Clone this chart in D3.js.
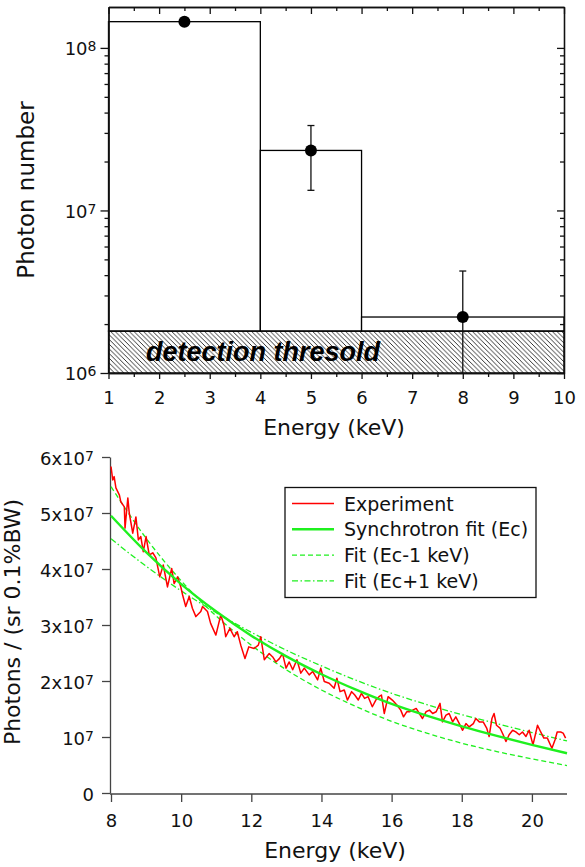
<!DOCTYPE html>
<html>
<head>
<meta charset="utf-8">
<script src="https://cdn.jsdelivr.net/npm/d3@7"></script>
<style>
  body { margin: 0; background: #fff; }
  svg { display: block; }
  text { font-family: "DejaVu Sans", sans-serif; fill: #111; }
</style>
</head>
<body>
<svg id="chart" width="585" height="867"></svg>
<script>
// ---- top panel data: photon number per energy bin ----
const binStart = [1, 4, 6];
const binEnd = [4, 6, 10];
const binCount = [1.45e8, 2.34e7, 2.21e6];
const pointEnergy = [2.5, 5, 8];
const errHigh = [null, 3.33e7, 4.24e6];
const errLow = [null, 1.33e7, 1e6];
const threshold = 1.81e6;
const topXTicks = [1, 2, 3, 4, 5, 6, 7, 8, 9, 10];
const topXMinor = [1.5, 2.5, 3.5, 4.5, 5.5, 6.5, 7.5, 8.5, 9.5];
const topYTicks = [1e6, 1e7, 1e8];
const topYMinor = [2e6, 3e6, 4e6, 5e6, 6e6, 7e6, 8e6, 9e6, 2e7, 3e7, 4e7, 5e7, 6e7, 7e7, 8e7, 9e7];

// ---- bottom panel data (photons in units of 1e7) ----
const expEnergy = [
  8.00, 8.05, 8.09, 8.14, 8.24, 8.28, 8.38, 8.40, 8.48, 8.52, 8.62, 8.71, 8.78, 8.85, 8.92,
  9.00, 9.09, 9.19, 9.28, 9.39, 9.49, 9.61, 9.73, 9.80, 9.90, 9.99, 10.04, 10.13, 10.23, 10.32,
  10.42, 10.56, 10.61, 10.75, 10.84, 10.99, 11.13, 11.22, 11.27, 11.39, 11.51, 11.60, 11.70, 11.82, 11.93,
  12.08, 12.20, 12.27, 12.37, 12.51, 12.61, 12.70, 12.80, 12.89, 12.99, 13.08, 13.18, 13.30, 13.41, 13.51,
  13.65, 13.75, 13.89, 13.98, 14.08, 14.22, 14.36, 14.44, 14.53, 14.65, 14.74, 14.86, 14.95, 15.05, 15.14,
  15.23, 15.33, 15.45, 15.55, 15.64, 15.71, 15.79, 15.90, 16.02, 16.15, 16.26, 16.34, 16.43, 16.51, 16.60,
  16.70, 16.79, 16.88, 16.98, 17.08, 17.17, 17.27, 17.38, 17.45, 17.55, 17.64, 17.74, 17.83, 17.93, 18.02,
  18.12, 18.21, 18.33, 18.40, 18.50, 18.61, 18.71, 18.78, 18.86, 18.92, 18.99, 19.09, 19.18, 19.26, 19.35,
  19.45, 19.54, 19.64, 19.73, 19.83, 19.92, 20.03, 20.16, 20.25, 20.34, 20.44, 20.57, 20.66, 20.72, 20.82,
  20.89, 20.96
];
const expPhotons = [
  5.83, 5.59, 5.65, 5.45, 5.32, 5.20, 5.11, 4.73, 5.27, 5.00, 4.64, 4.93, 4.52, 4.58, 4.31,
  4.58, 4.25, 4.29, 4.20, 3.86, 4.07, 3.68, 4.01, 3.74, 3.86, 3.68, 3.54, 3.33, 3.51, 3.30,
  3.15, 3.24, 3.33, 3.24, 3.03, 2.82, 3.18, 3.00, 2.79, 2.94, 2.79, 2.88, 2.64, 2.40, 2.61,
  2.58, 2.64, 2.79, 2.38, 2.49, 2.43, 2.34, 2.40, 2.49, 2.23, 2.34, 2.20, 2.38, 2.14, 2.23,
  2.11, 2.17, 2.02, 2.23, 1.99, 1.96, 1.87, 2.05, 1.81, 1.84, 1.66, 1.81, 1.75, 1.66, 1.78,
  1.69, 1.72, 1.54, 1.66, 1.72, 1.75, 1.42, 1.72, 1.66, 1.57, 1.48, 1.36, 1.45, 1.45, 1.48,
  1.51, 1.42, 1.33, 1.45, 1.48, 1.42, 1.45, 1.60, 1.27, 1.39, 1.42, 1.27, 1.36, 1.24, 1.12,
  1.24, 1.18, 1.24, 1.33, 1.27, 1.27, 1.16, 1.01, 1.33, 1.42, 1.21, 1.16, 1.04, 0.92, 1.04,
  1.12, 1.09, 1.04, 1.09, 1.01, 1.12, 0.86, 1.21, 1.09, 0.98, 0.98, 0.80, 0.95, 1.09, 1.09,
  1.07, 0.98
];
const fitEnergy = [8, 9, 10, 11, 12, 13, 14, 15, 16, 17, 18, 19, 20, 21];
const fitEc = [4.95, 4.30, 3.73, 3.24, 2.81, 2.44, 2.12, 1.84, 1.59, 1.38, 1.19, 1.02, 0.86, 0.71];
const fitEcMinus = [5.47, 4.55, 3.79, 3.16, 2.64, 2.20, 1.84, 1.54, 1.28, 1.07, 0.89, 0.74, 0.61, 0.49];
const fitEcPlus = [4.54, 4.05, 3.61, 3.22, 2.87, 2.55, 2.27, 2.01, 1.78, 1.58, 1.40, 1.24, 1.08, 0.93];
const bottomXTicks = [8, 10, 12, 14, 16, 18, 20];
const bottomYTicks = [0, 1, 2, 3, 4, 5, 6];
const legendLabels = ['Experiment', 'Synchrotron fit (Ec)', 'Fit (Ec-1 keV)', 'Fit (Ec+1 keV)'];

const svg = d3.select('#chart');
const green = '#1ff01f';

// helper: rewrite tick labels as base + superscript
function supText(textSel, base, exp) {
    textSel.text(null);
    textSel.append('tspan').text(base);
    if (exp !== '') {
        textSel.append('tspan').attr('dy', -4).attr('font-size', 14).text(exp);
    }
}

function styleAxis(g, color) {
    g.attr('font-family', null).attr('font-size', null);
    g.selectAll('path, line').attr('stroke', color).attr('stroke-width', 1.3);
}

// =========== top panel ===========
const tx = d3.scaleLinear().domain([1, 10]).range([108.5, 564]);
const ty = d3.scaleLog().domain([1e6, 1.785e8]).range([373, 7]);

// hatch pattern for the detection threshold band
const defs = svg.append('defs');
const pat = defs.append('pattern')
    .attr('id', 'hatch')
    .attr('patternUnits', 'userSpaceOnUse')
    .attr('width', 4.7).attr('height', 4.7);
pat.append('path')
    .attr('d', 'M-1,-1 L5.7,5.7 M-1,3.7 L1,5.7 M3.7,-1 L5.7,1')
    .attr('stroke', '#000').attr('stroke-width', 0.8);

const bins = binStart.map((s, i) => ({ s, e: binEnd[i], c: binCount[i] }));

svg.append('g').selectAll('rect')
    .data(bins)
    .enter().append('rect')
    .attr('x', d => tx(d.s))
    .attr('y', d => ty(d.c))
    .attr('width', d => tx(d.e) - tx(d.s))
    .attr('height', d => ty(threshold) - ty(d.c))
    .attr('fill', '#fff')
    .attr('stroke', '#000')
    .attr('stroke-width', 1.3);

svg.append('rect')
    .attr('x', tx(1)).attr('y', ty(threshold))
    .attr('width', tx(10) - tx(1))
    .attr('height', ty(1e6) - ty(threshold))
    .attr('fill', 'url(#hatch)')
    .attr('stroke', '#000').attr('stroke-width', 1.3);

svg.append('text')
    .attr('x', 146).attr('y', 361)
    .style('font-family', '"Liberation Sans", Arial, sans-serif')
    .style('font-weight', 'bold').style('font-style', 'italic')
    .style('font-size', '27px')
    .style('fill', '#000')
    .text('detection thresold');

// error bars
const points = pointEnergy.map((e, i) => ({ e, c: binCount[i], hi: errHigh[i], lo: errLow[i] }));
const eb = svg.append('g').attr('stroke', '#111').attr('stroke-width', 1.3);
points.filter(d => d.hi !== null).forEach(d => {
    eb.append('line')
        .attr('x1', tx(d.e)).attr('x2', tx(d.e))
        .attr('y1', ty(d.hi)).attr('y2', ty(d.lo));
    eb.append('line')
        .attr('x1', tx(d.e) - 3.5).attr('x2', tx(d.e) + 3.5)
        .attr('y1', ty(d.hi)).attr('y2', ty(d.hi));
    if (d.lo > 1e6) {
        eb.append('line')
            .attr('x1', tx(d.e) - 3.5).attr('x2', tx(d.e) + 3.5)
            .attr('y1', ty(d.lo)).attr('y2', ty(d.lo));
    }
});

svg.append('g').selectAll('circle')
    .data(points)
    .enter().append('circle')
    .attr('cx', d => tx(d.e))
    .attr('cy', d => ty(d.c))
    .attr('r', 6)
    .attr('fill', '#000');

// axes of top panel
const axB = svg.append('g').attr('transform', `translate(0,${ty(1e6)})`)
    .call(d3.axisBottom(tx).tickValues(topXTicks).tickSizeInner(6).tickSizeOuter(0).tickPadding(12).tickFormat(d3.format('d')));
styleAxis(axB, '#111');
axB.selectAll('text').attr('font-size', 18);
const axBm = svg.append('g').attr('transform', `translate(0,${ty(1e6)})`)
    .call(d3.axisBottom(tx).tickValues(topXMinor).tickSizeInner(4).tickSizeOuter(0).tickFormat(''));
styleAxis(axBm, '#111');

const axT = svg.append('g').attr('transform', `translate(0,${ty.range()[1]})`)
    .call(d3.axisTop(tx).tickValues(topXTicks).tickSizeInner(-7).tickSizeOuter(0).tickFormat(''));
styleAxis(axT, '#111');
const axTm = svg.append('g').attr('transform', `translate(0,${ty.range()[1]})`)
    .call(d3.axisTop(tx).tickValues(topXMinor).tickSizeInner(-4).tickSizeOuter(0).tickFormat(''));
styleAxis(axTm, '#111');

const axL = svg.append('g').attr('transform', `translate(${tx(1)},0)`)
    .call(d3.axisLeft(ty).tickValues(topYTicks).tickSizeInner(8).tickSizeOuter(0).tickPadding(4));
styleAxis(axL, '#111');
axL.selectAll('.tick text')
    .attr('font-size', 18).attr('dy', '0.38em')
    .each(function (d) { supText(d3.select(this), '10', String(Math.round(Math.log10(d)))); });
const axLm = svg.append('g').attr('transform', `translate(${tx(1)},0)`)
    .call(d3.axisLeft(ty).tickValues(topYMinor).tickSizeInner(4).tickSizeOuter(0).tickFormat(''));
styleAxis(axLm, '#111');

const axR = svg.append('g').attr('transform', `translate(${tx(10)},0)`)
    .call(d3.axisRight(ty).tickValues(topYTicks).tickSizeInner(-7).tickSizeOuter(0).tickFormat(''));
styleAxis(axR, '#111');
const axRm = svg.append('g').attr('transform', `translate(${tx(10)},0)`)
    .call(d3.axisRight(ty).tickValues(topYMinor).tickSizeInner(-4).tickSizeOuter(0).tickFormat(''));
styleAxis(axRm, '#111');

svg.append('text')
    .attr('x', 334).attr('y', 435)
    .attr('text-anchor', 'middle')
    .attr('font-size', 22)
    .text('Energy (keV)');

svg.append('text')
    .attr('transform', 'translate(34,190) rotate(-90)')
    .attr('text-anchor', 'middle')
    .attr('font-size', 23)
    .text('Photon number');

// =========== bottom panel ===========
const bx = d3.scaleLinear().domain([8, 21]).range([111, 567]);
const by = d3.scaleLinear().domain([0, 6]).range([793, 457]);

const axBL = svg.append('g').attr('transform', 'translate(110,0)')
    .call(d3.axisLeft(by).tickValues(bottomYTicks).tickSizeInner(8).tickSizeOuter(0).tickPadding(8));
styleAxis(axBL, '#444');
axBL.selectAll('.tick text')
    .attr('font-size', 18).attr('dy', '0.4em')
    .each(function (d) {
        const t = d3.select(this);
        if (d === 0) supText(t, '0', '');
        else if (d === 1) supText(t, '10', '7');
        else supText(t, d + 'x10', '7');
    });

const axBB = svg.append('g').attr('transform', 'translate(0,794)')
    .call(d3.axisBottom(bx).tickValues(bottomXTicks).tickSizeInner(8).tickSizeOuter(0).tickPadding(12).tickFormat(d3.format('d')));
styleAxis(axBB, '#444');
axBB.select('.domain').attr('d', `M110,0H${bx(21)}`);
axBB.selectAll('text').attr('font-size', 18);

const fitLine = d3.line()
    .x(d => bx(d[0]))
    .y(d => by(d[1]))
    .curve(d3.curveMonotoneX);

svg.append('path')
    .attr('d', fitLine(fitEnergy.map((e, i) => [e, fitEcMinus[i]])))
    .attr('fill', 'none').attr('stroke', green).attr('stroke-width', 1.3)
    .attr('stroke-dasharray', '5,3');
svg.append('path')
    .attr('d', fitLine(fitEnergy.map((e, i) => [e, fitEcPlus[i]])))
    .attr('fill', 'none').attr('stroke', green).attr('stroke-width', 1.3)
    .attr('stroke-dasharray', '6,2.5,1.5,2.5');

const expLine = d3.line()
    .x(d => bx(d[0]))
    .y(d => by(d[1]));
svg.append('path')
    .attr('d', expLine(expEnergy.map((e, i) => [e, expPhotons[i]])))
    .attr('fill', 'none').attr('stroke', '#ff0000').attr('stroke-width', 1.5)
    .attr('stroke-linejoin', 'round');

svg.append('path')
    .attr('d', fitLine(fitEnergy.map((e, i) => [e, fitEc[i]])))
    .attr('fill', 'none').attr('stroke', green).attr('stroke-width', 2.4);

// legend
const legendStyles = [
    { color: '#ff0000', width: 1.3, dash: null },
    { color: green, width: 2.6, dash: null },
    { color: green, width: 1.3, dash: '5,3' },
    { color: green, width: 1.3, dash: '6,2.5,1.5,2.5' }
];
const lg = svg.append('g');
lg.append('rect')
    .attr('x', 285).attr('y', 487.5)
    .attr('width', 251).attr('height', 110)
    .attr('fill', '#fff').attr('stroke', '#111').attr('stroke-width', 1.3);
legendLabels.forEach((label, i) => {
    const yy = 503.5 + i * 25.8;
    const st = legendStyles[i];
    lg.append('line')
        .attr('x1', 292).attr('x2', 334)
        .attr('y1', yy).attr('y2', yy)
        .attr('stroke', st.color).attr('stroke-width', st.width)
        .attr('stroke-dasharray', st.dash);
    lg.append('text')
        .attr('x', 344).attr('y', yy + 7)
        .attr('font-size', 19)
        .text(label);
});

svg.append('text')
    .attr('x', 335).attr('y', 858)
    .attr('text-anchor', 'middle')
    .attr('font-size', 22)
    .text('Energy (keV)');

svg.append('text')
    .attr('transform', 'translate(20,622) rotate(-90)')
    .attr('text-anchor', 'middle')
    .attr('font-size', 22)
    .text('Photons / (sr 0.1%BW)');
</script>
</body>
</html>
